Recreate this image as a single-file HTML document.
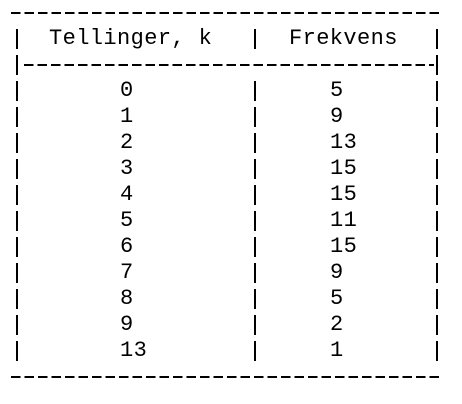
<!DOCTYPE html>
<html><head><meta charset="utf-8"><style>
body{margin:0;background:#fff;}
#c{position:relative;width:462px;height:404px;overflow:hidden;background:#fff;font-family:"Liberation Mono",monospace;font-size:22px;color:#000;}
.t{position:absolute;height:26px;line-height:26px;white-space:pre;letter-spacing:0.4px;}
.b{position:absolute;width:2px;height:20px;background:#000;}
.d{position:absolute;height:2px;background:repeating-linear-gradient(90deg,#000 0 9.5px,transparent 9.5px 13.5px);}
</style></head><body>
<div id="c">
<div class="d" style="left:11px;top:12px;width:432px"></div>
<div class="d" style="left:24px;top:64px;width:410px"></div>
<div class="d" style="left:11px;top:376px;width:432px"></div>
<div class="t" style="left:49px;top:26px">Tellinger, k</div>
<div class="t" style="left:289px;top:26px">Frekvens</div>
<div id="rows"></div>
</div>
<script>
const counts=["0","1","2","3","4","5","6","7","8","9","13"];
const freqs=["5","9","13","15","15","11","15","9","5","2","1"];
const c=document.getElementById('c');
function bars(y,mid){
  [16,436].concat(mid?[254]:[]).forEach(x=>{
    const b=document.createElement('div');b.className='b';
    
    
    b.style.left=x+'px';b.style.top=(y-10)+'px';c.appendChild(b);
  });
}
bars(39,true);bars(65,false);
counts.forEach((k,i)=>{
  const y=91+26*i;
  bars(y,true);
  const a=document.createElement('div');a.className='t';
  
  
  a.style.left='120px';a.style.top=(y-13)+'px';a.textContent=k;c.appendChild(a);
  const f=document.createElement('div');f.className='t';
  
  
  f.style.left='330px';f.style.top=(y-13)+'px';f.textContent=freqs[i];c.appendChild(f);
});
</script>
</body></html>
